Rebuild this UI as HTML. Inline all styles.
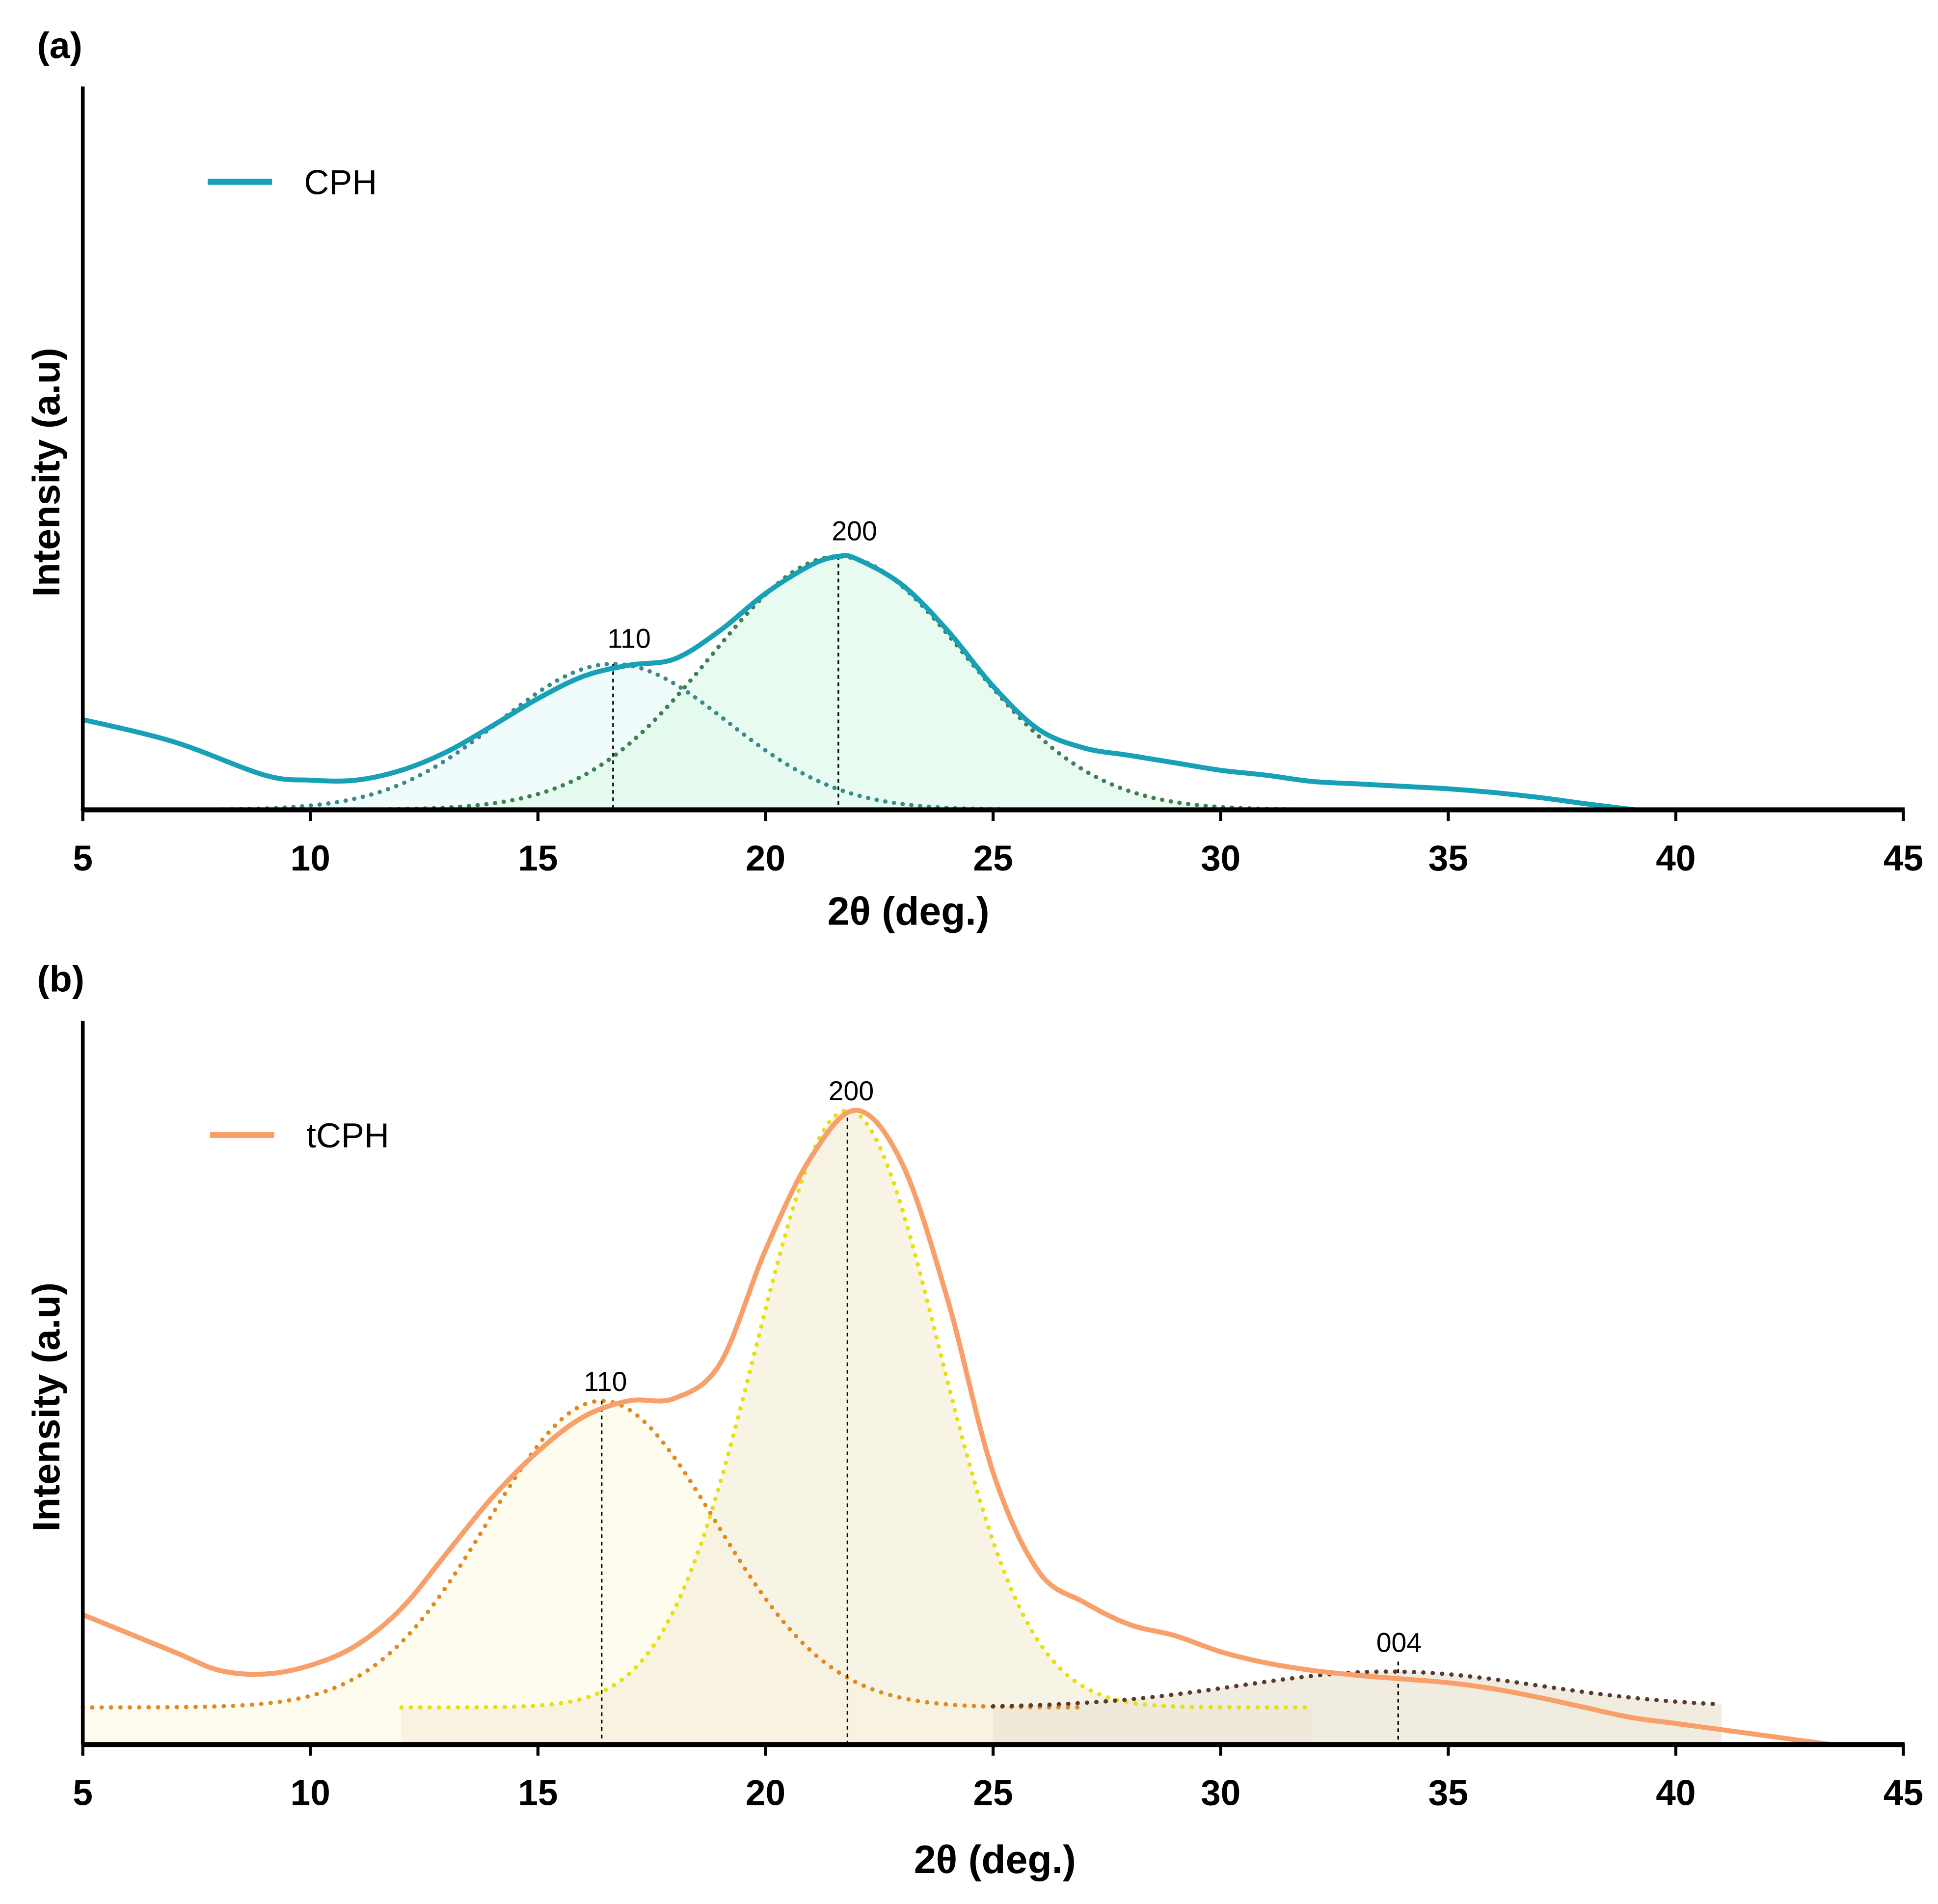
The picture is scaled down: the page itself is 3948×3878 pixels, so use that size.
<!DOCTYPE html>
<html><head><meta charset="utf-8"><style>
html,body{margin:0;padding:0;background:#fff;}
svg{display:block;}
text{font-family:"Liberation Sans",sans-serif;}
</style></head><body>
<svg id="chart" width="3948" height="3878" viewBox="0 0 1568 1540" preserveAspectRatio="none" xmlns="http://www.w3.org/2000/svg">
<g id="pa"></g>
<g id="pb"></g>
<text x="30" y="47" font-size="30" font-weight="bold">(a)</text>
<text x="30" y="802" font-size="30" font-weight="bold">(b)</text>
<line x1="168" y1="147" x2="220" y2="147" stroke="#18a0b6" stroke-width="5"/>
<text x="246" y="157" font-size="28">CPH</text>
<line x1="170" y1="918" x2="222" y2="918" stroke="#f9a06a" stroke-width="5"/>
<text x="248" y="928" font-size="28">tCPH</text>
<text transform="translate(48,382) rotate(-90)" text-anchor="middle" font-size="31" font-weight="bold">Intensity (a.u)</text>
<text transform="translate(48,1138) rotate(-90)" text-anchor="middle" font-size="31" font-weight="bold">Intensity (a.u)</text>
<text x="735" y="748" text-anchor="middle" font-size="32" font-weight="bold">2θ (deg.)</text>
<text x="805" y="1515" text-anchor="middle" font-size="32" font-weight="bold">2θ (deg.)</text>
</svg>
<script>
const NS="http://www.w3.org/2000/svg";
const xTicks=[5,10,15,20,25,30,35,40,45];
// panel a: CPH measured curve (2θ, intensity)
const cphX=[5,7,9,10,11,12,13,14,15,16,17,18,19,20,21,21.6,22,23,24,25,26,27,28,29,30,31,32,33,34,35,36,37,38,39.1];
const cphY=[73,55,28,24,24,32,47,68,90,108,117,122,145,175,198,205,203,182,145,100,65,50,44,38,32,28,23,21,19,17,14,10,5,0];
const aPeakNames=["110","200"];
const aPeakCenters=[16.65,21.6];
const aPeakHeights=[118,205];
const aPeakSigmas=[2.5,2.8];
// panel b: tCPH measured
const tX=[5,7,8,9,10,11,12,13,14,15,16,17,18,19,20,21,22,23,24,25,26,27,28,29,30,31,32,33,34,35,36,37,38,39,40,41,42,43.4];
const tY=[105,75,60,57,64,80,110,155,200,237,265,278,280,308,400,475,513,470,360,220,140,115,97,88,75,66,60,56,53,50,45,38,30,22,17,12,7,0];
const bPeakNames=["110","200","004"];
const bPeakCenters=[16.4,21.8,33.7];
const bPeakHeights=[248,483,29];
const bPeakSigmas=[2.5,2.0,3.3];
const bPeakOffsets=[30,30,30];
const bPeakStarts=[5,12,25];
const bPeakEnds=[27,32,41];

function el(tag,attrs,parent){const e=document.createElementNS(NS,tag);for(const k in attrs)e.setAttribute(k,attrs[k]);parent.appendChild(e);return e;}
const xs=v=>67+(v-5)*(1540-67)/40;
function smooth(pts){let d="M"+pts[0][0]+","+pts[0][1];for(let i=0;i<pts.length-1;i++){const p0=pts[Math.max(0,i-1)],p1=pts[i],p2=pts[i+1],p3=pts[Math.min(pts.length-1,i+2)];
d+=" C"+(p1[0]+(p2[0]-p0[0])/6)+","+(p1[1]+(p2[1]-p0[1])/6)+" "+(p2[0]-(p3[0]-p1[0])/6)+","+(p2[1]-(p3[1]-p1[1])/6)+" "+p2[0]+","+p2[1];}return d;}
function gauss(c,h,s,o,a,b,ys){const pts=[];for(let x=a;x<=b+1e-9;x+=0.1){pts.push([xs(x),ys(o+h*Math.exp(-(x-c)*(x-c)/(2*s*s)))]);}return pts;}
function ptsPath(p){return "M"+p.map(q=>q[0].toFixed(2)+","+q[1].toFixed(2)).join(" L");}

function axes(g,base,top,labY){
  el("line",{x1:67,y1:top,x2:67,y2:base,stroke:"#000","stroke-width":3},g);
  el("line",{x1:66,y1:base,x2:1541,y2:base,stroke:"#000","stroke-width":4},g);
  xTicks.forEach(t=>{
    const tk=el("line",{x1:xs(t),y1:base,x2:xs(t),y2:base+9,stroke:"#000","stroke-width":2.5},g);
    
    
    const tl=el("text",{x:xs(t),y:labY,"text-anchor":"middle","font-size":29,"font-weight":"bold"},g);
    tl.textContent=t;
    
    
  });
}

// Panel A
(function(){
  const g=document.getElementById("pa");const base=655;const ys=v=>base-v;
  const fills=["#eefbfb","#e4fbee"],strokes=["#3a8a8f","#3f7f52"];
  aPeakCenters.forEach((c,i)=>{
    const p=gauss(c,aPeakHeights[i],aPeakSigmas[i],0,5,45,ys);
    const f=el("path",{d:ptsPath(p)+" L"+xs(45)+","+base+" L"+xs(5)+","+base+" Z",fill:fills[i],opacity:0.9},g);
    
    
  });
  aPeakCenters.forEach((c,i)=>{
    const p=gauss(c,aPeakHeights[i],aPeakSigmas[i],0,5,i==0?29:45,ys);
    const l=el("path",{d:ptsPath(p),fill:"none",stroke:strokes[i],"stroke-width":3.5,"stroke-dasharray":"0.1 7","stroke-linecap":"round"},g);
    
    
    const v=el("line",{x1:xs(c),y1:ys(aPeakHeights[i]),x2:xs(c),y2:base,stroke:"#000","stroke-width":1.3,"stroke-dasharray":"3 3"},g);
    
    
    const t=el("text",{x:xs(c)+13,y:ys(aPeakHeights[i])-13,"text-anchor":"middle","font-size":22},g);
    t.textContent=aPeakNames[i];
    
    
  });
  const cp=el("path",{d:smooth(cphX.map((x,i)=>[xs(x),ys(cphY[i])])),fill:"none",stroke:"#18a0b6","stroke-width":4},g);
  
  
  axes(g,base,70,704);
})();

// Panel B
(function(){
  const g=document.getElementById("pb");const base=1411;const ys=v=>base-v;
  const fills=["#fdf9ea","#f6f0dc","#ebe5d5"],strokes=["#e08a20","#e6e010","#5a3a30"];
  bPeakCenters.forEach((c,i)=>{
    const p=gauss(c,bPeakHeights[i],bPeakSigmas[i],bPeakOffsets[i],bPeakStarts[i],bPeakEnds[i],ys);
    const f=el("path",{d:ptsPath(p)+" L"+xs(bPeakEnds[i])+","+base+" L"+xs(bPeakStarts[i])+","+base+" Z",fill:fills[i],opacity:0.75},g);
    
    
  });
  bPeakCenters.forEach((c,i)=>{
    const p=gauss(c,bPeakHeights[i],bPeakSigmas[i],bPeakOffsets[i],bPeakStarts[i],bPeakEnds[i],ys);
    const l=el("path",{d:ptsPath(p),fill:"none",stroke:strokes[i],"stroke-width":3.5,"stroke-dasharray":"0.1 7.5","stroke-linecap":"round"},g);
    
    
    const top=ys(bPeakOffsets[i]+bPeakHeights[i]);
    const v=el("line",{x1:xs(c)+(i==2?0.2*(1540-67)/40:0),y1:i==2?top-8:top,x2:xs(c)+(i==2?0.2*(1540-67)/40:0),y2:base,stroke:"#000","stroke-width":1.3,"stroke-dasharray":"3 3"},g);
    
    
    const t=el("text",{x:xs(c)+(i==2?8:3),y:top-(i==2?16:8),"text-anchor":"middle","font-size":22},g);
    t.textContent=bPeakNames[i];
    
    
  });
  const cp=el("path",{d:smooth(tX.map((x,i)=>[xs(x),ys(tY[i])])),fill:"none",stroke:"#f9a06a","stroke-width":4},g);
  
  
  axes(g,base,826,1460);
})();
</script>
</body></html>
